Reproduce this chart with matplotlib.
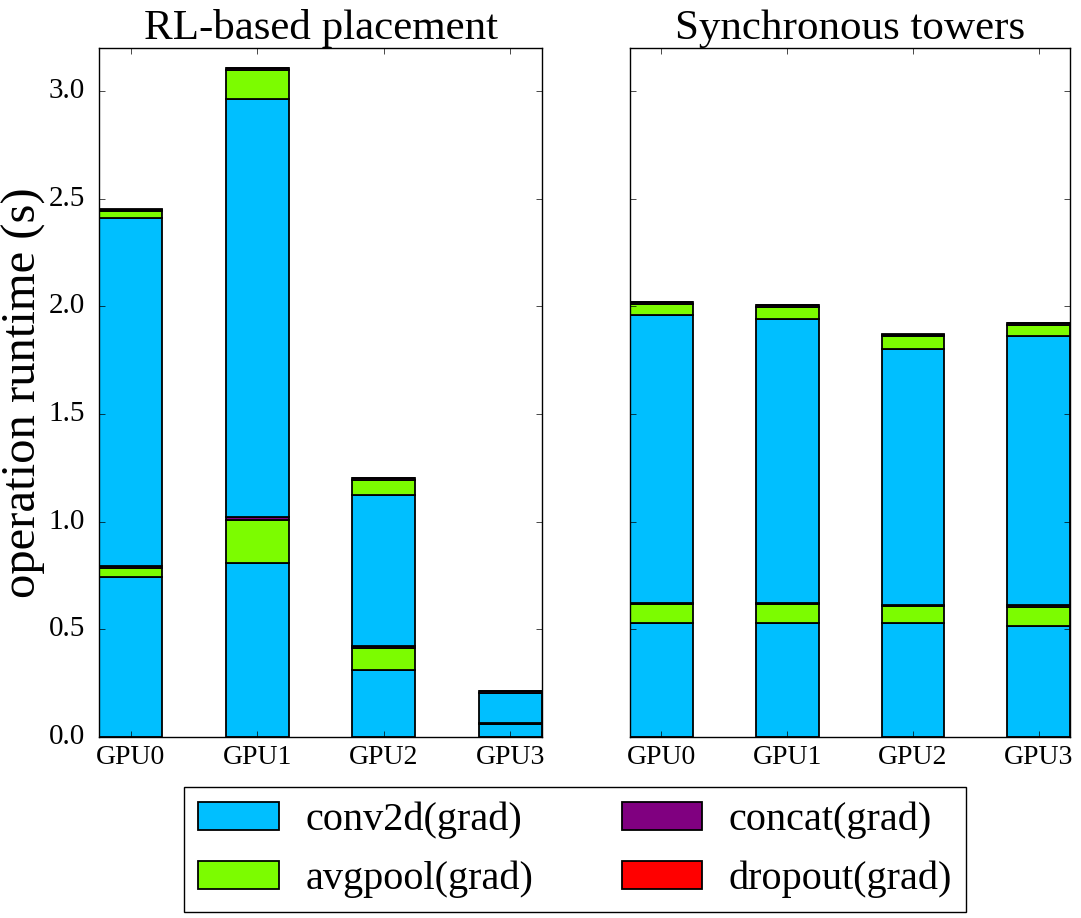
import numpy as np
import matplotlib.pyplot as plt

plt.style.use('classic')
plt.rcParams['font.family'] = ['Liberation Serif', 'DejaVu Serif']

gpus = ['GPU0', 'GPU1', 'GPU2', 'GPU3']
ops = ['conv2d(grad)', 'avgpool(grad)', 'concat(grad)', 'dropout(grad)']
colors = {'conv2d(grad)': '#00BFFF', 'avgpool(grad)': '#7CFC00',
          'concat(grad)': '#800080', 'dropout(grad)': '#FF0000'}

# RL-based placement, segments stacked bottom to top
rl_conv_a = [0.745, 0.81, 0.31, 0.06]
rl_pool_a = [0.040, 0.200, 0.105, 0.0]
rl_concat_a = [0.008, 0.010, 0.008, 0.005]
rl_conv_b = [1.617, 1.940, 0.700, 0.140]
rl_pool_b = [0.030, 0.135, 0.070, 0.0]
rl_concat_b = [0.008, 0.010, 0.010, 0.008]
rl_dropout = [0.002, 0.002, 0.002, 0.002]

# Synchronous towers
st_conv_a = [0.532, 0.532, 0.529, 0.517]
st_pool_a = [0.085, 0.085, 0.079, 0.088]
st_concat_a = [0.007, 0.007, 0.007, 0.007]
st_conv_b = [1.334, 1.315, 1.185, 1.248]
st_pool_b = [0.052, 0.058, 0.060, 0.055]
st_concat_b = [0.008, 0.008, 0.008, 0.007]
st_dropout = [0.002, 0.002, 0.002, 0.002]

rl_layers = [('conv2d(grad)', rl_conv_a), ('avgpool(grad)', rl_pool_a),
             ('concat(grad)', rl_concat_a), ('conv2d(grad)', rl_conv_b),
             ('avgpool(grad)', rl_pool_b), ('concat(grad)', rl_concat_b),
             ('dropout(grad)', rl_dropout)]
st_layers = [('conv2d(grad)', st_conv_a), ('avgpool(grad)', st_pool_a),
             ('concat(grad)', st_concat_a), ('conv2d(grad)', st_conv_b),
             ('avgpool(grad)', st_pool_b), ('concat(grad)', st_concat_b),
             ('dropout(grad)', st_dropout)]

fig = plt.figure(figsize=(10.81, 9.18), dpi=100, facecolor='white')
ax1 = fig.add_axes([0.0916, 0.197, 0.4098, 0.751])
ax2 = fig.add_axes([0.5828, 0.197, 0.4072, 0.751], sharey=ax1)

x = np.arange(len(gpus))
handles = {}
for ax, layers, title in [(ax1, rl_layers, 'RL-based placement'),
                          (ax2, st_layers, 'Synchronous towers')]:
    bottom = np.zeros(len(gpus))
    for op, vals in layers:
        vals = np.array(vals)
        b = ax.bar(x, vals, 0.5, bottom=bottom, align='center',
                   color=colors[op], edgecolor='black', linewidth=1.3)
        handles[op] = b
        bottom += vals
    ax.set_xlim(-0.25, 3.25)
    ax.set_xticks(x)
    ax.set_xticklabels(gpus, fontsize=20)
    ax.set_title(title, fontsize=31, pad=6)
    ax.tick_params(axis='y', labelsize=21, pad=10)
    ax.tick_params(axis='x', pad=6)

ax1.set_ylim(0, 3.2)
ax1.set_yticks(np.arange(0, 3.01, 0.5))
ax1.set_ylabel('operation runtime (s)', fontsize=35, labelpad=2)
plt.setp(ax2.get_yticklabels(), visible=False)

fig.legend([handles[o] for o in ops], ops, loc='lower center',
           bbox_to_anchor=(0.532, 0.006), ncol=2, fontsize=29,
           handlelength=2.0, handleheight=0.7, handletextpad=0.65,
           columnspacing=2.2, borderpad=0.35, labelspacing=0.55,
           borderaxespad=0, fancybox=False)

plt.savefig('out.png', dpi=100, facecolor='white')
